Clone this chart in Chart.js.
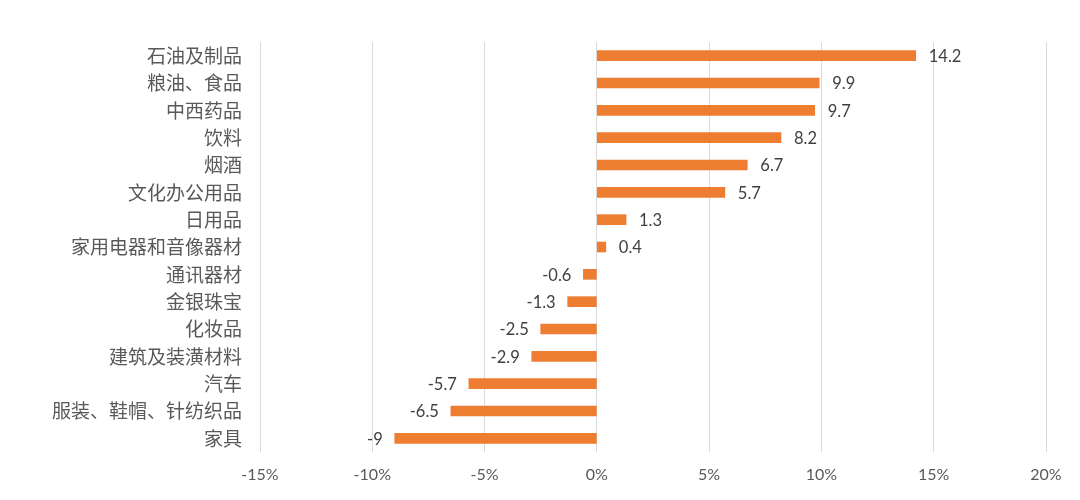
<!DOCTYPE html>
<html>
<head>
<meta charset="utf-8">
<script src="https://cdn.jsdelivr.net/npm/chart.js@4/dist/chart.umd.min.js"></script>
<style>
  html, body { margin: 0; padding: 0; background: #fff; }
  #wrap { width: 1080px; height: 500px; position: relative; }
</style>
</head>
<body>
<div id="wrap"><canvas id="c"></canvas></div>
<script>
// 品类（自上而下）与同比增速（%）
const categories = [
  '石油及制品', '粮油、食品', '中西药品', '饮料', '烟酒', '文化办公用品', '日用品',
  '家用电器和音像器材', '通讯器材', '金银珠宝', '化妆品', '建筑及装潢材料', '汽车',
  '服装、鞋帽、针纺织品', '家具'
];
const growth = [14.2, 9.9, 9.7, 8.2, 6.7, 5.7, 1.3, 0.4, -0.6, -1.3, -2.5, -2.9, -5.7, -6.5, -9];
const xMin = -15, xMax = 20, xStep = 5;

const BAR_COLOR = '#ED7D31';
const NUM_FONT = 'Lato, "Liberation Sans", sans-serif';
const CJK_FONT = '"Noto Sans CJK SC", "Noto Sans", sans-serif';

// 柱端数值标签：正值放右侧，负值放左侧
const barLabels = {
  id: 'barLabels',
  afterDatasetsDraw(chart) {
    const ctx = chart.ctx;
    const meta = chart.getDatasetMeta(0);
    ctx.save();
    ctx.font = '16.5px ' + NUM_FONT;
    ctx.fillStyle = '#404040';
    ctx.textBaseline = 'middle';
    meta.data.forEach((bar, i) => {
      const v = growth[i];
      const x = bar.x + (v >= 0 ? 13 : -12);
      ctx.textAlign = v >= 0 ? 'left' : 'right';
      ctx.fillText(String(v), x, bar.y + 1);
    });
    ctx.restore();
  }
};

new Chart(document.getElementById('c'), {
  type: 'bar',
  data: {
    labels: categories,
    datasets: [{
      data: growth,
      backgroundColor: BAR_COLOR,
      borderWidth: 0,
      barThickness: 10,
    }]
  },
  options: {
    indexAxis: 'y',
    responsive: true,
    maintainAspectRatio: false,
    animation: false,
    layout: { padding: { top: 42, right: 34, left: 0, bottom: 0 } },
    plugins: { legend: { display: false }, tooltip: { enabled: false } },
    scales: {
      x: {
        min: xMin, max: xMax,
        afterFit: a => { a.height = 48; },
        ticks: {
          stepSize: xStep,
          padding: 13,
          color: '#595959',
          font: { family: NUM_FONT, size: 16 },
          callback: v => v + '%',
        },
        grid: { color: '#d9d9d9', lineWidth: 1, drawTicks: false },
        border: { display: false },
      },
      y: {
        afterFit: a => { a.width = 260; },
        ticks: {
          padding: 18,
          color: '#595959',
          font: { family: CJK_FONT, size: 19 },
        },
        grid: { display: false, drawTicks: false },
        border: { display: false },
      }
    }
  },
  plugins: [barLabels]
});
</script>
</body>
</html>
